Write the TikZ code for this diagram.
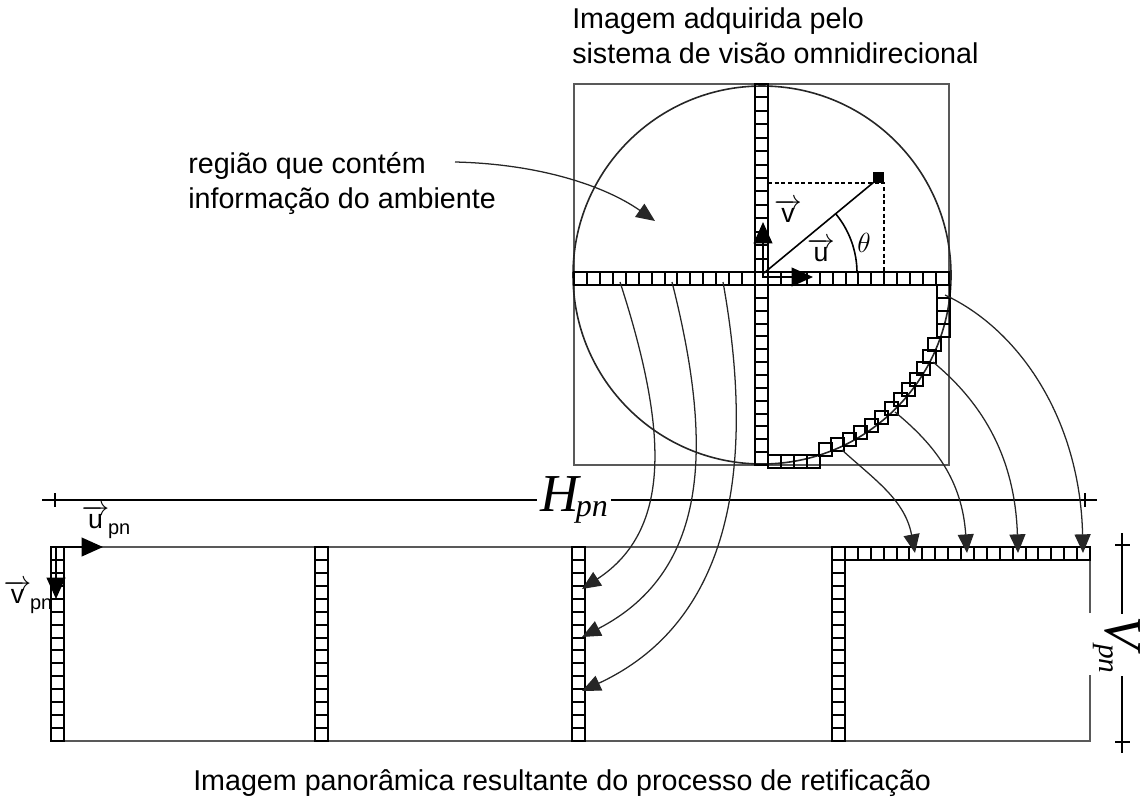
\documentclass[tikz,border=0pt]{standalone}
\usepackage{fontspec}
\setmainfont{Liberation Sans}
\newfontfamily\timesfont{Liberation Serif}
\usetikzlibrary{arrows.meta}
\newcommand\lbltext{\fontsize{21.5}{26}\selectfont}
\newcommand\veclbl{\fontsize{20}{20}\selectfont}
\newcommand\hcells[5]{%
  \pgfmathtruncatemacro\cellsnm{#5-1}%
  \draw[strip] (#1,#2) rectangle (#3,#4);
  \foreach \k in {1,...,\cellsnm}{\draw[strip] ({#1+(#3-#1)*\k/#5},#2) -- ({#1+(#3-#1)*\k/#5},#4);}}
\newcommand\vcells[5]{%
  \pgfmathtruncatemacro\cellsnm{#5-1}%
  \draw[strip] (#1,#2) rectangle (#3,#4);
  \foreach \k in {1,...,\cellsnm}{\draw[strip] (#1,{#2+(#4-#2)*\k/#5}) -- (#3,{#2+(#4-#2)*\k/#5});}}
\begin{document}
\begin{tikzpicture}[x=0.75pt,y=-0.75pt,
  frame/.style={draw=black!65, line width=1.3pt},
  strip/.style={draw=black, line width=1.5pt},
  curve/.style={draw=black!85, line width=0.95pt, -{Triangle[length=14pt,width=12pt]}},
  vecarrow/.style={draw=black, line width=1.4pt, -{Triangle[length=16pt,width=14pt]}},
  dim/.style={draw=black, line width=1.2pt},
  txt/.style={inner sep=0pt, font=\lbltext}]
\useasboundingbox (0,0) rectangle (1148,800);

% ---------- top: omnidirectional image ----------
\draw[frame] (574,84) rectangle (949,465);
\draw[black!85, line width=1.2pt] (762,275) circle[radius=189];
\vcells{755}{84}{768}{272}{14}
\vcells{755}{285}{768}{465}{14}
\hcells{574}{272}{949}{285}{29}
% staircase cells along the arc
\foreach \cx in {774.5,787.5,800.5,813.5}{\draw[strip] (\cx-6.5,455) rectangle ++(13,13);}
\foreach \a in {-70,-66,...,-22}{\draw[strip] ({762+186*cos(\a)-6.5},{275-186*sin(\a)-6.5}) rectangle ++(13,13);}
\foreach \cy in {291.5,304.5,317.5,330.5}{\draw[strip] (936.5,\cy-6.5) rectangle ++(13,13);}

% vectors u, v and point
\coordinate (O) at (764,273);
\coordinate (P) at (874,182);
\coordinate (Ou) at (762,277);
\coordinate (Ut) at (813,277);
\coordinate (Vt) at (763,222);
\draw[vecarrow] (Ou) -- (Ut);
\draw[vecarrow] (763,277) -- (Vt);
\draw[black, line width=1.2pt] (O) -- (P);
\fill[black] (873,172) rectangle (884,183);
\draw[black, line width=0.9pt, dash pattern=on 3pt off 2pt] (768,183) -- (884,183) -- (884,273);
\draw[black, line width=1.2pt] (857,273) arc[start angle=0, end angle=-39.6, radius=93];
\node[font=\fontsize{20}{20}\selectfont, inner sep=0pt] (theta) at (864,243) {$\theta$};
\node[font=\veclbl, inner sep=0pt] (ulab) at (821,250) {$\overrightarrow{\mbox{u}}$};
\node[font=\veclbl, inner sep=0pt] (vlab) at (788,211) {$\overrightarrow{\mbox{v}}$};

% title
\node[txt, anchor=base west] (t1) at (572,28) {Imagem adquirida pelo};
\node[txt, anchor=base west] (t2) at (572,63) {sistema de visão omnidirecional};

% region label
\node[txt, anchor=base west] (r1) at (188,173) {região que contém};
\node[txt, anchor=base west] (r2) at (188,208) {informação do ambiente};
\coordinate (rs) at (455,162);
\coordinate (re) at (655,221);
\draw[curve] (rs) .. controls (540,164) and (605,186) .. (re);

% ---------- dimension H ----------
\draw[dim] (42,500) -- (1097,500);
\draw[dim] (55,493) -- (55,507);
\draw[dim] (1085,493) -- (1085,507);
\node[fill=white, inner sep=2pt] (H) at (574,500) {\timesfont\itshape\fontsize{40}{40}\selectfont H\kern-2pt\raisebox{-4pt}{\fontsize{24}{24}\selectfont pn}};

% ---------- bottom: panoramic image ----------
\draw[frame] (1090,613) -- (1090,547) -- (51,547) -- (51,741) -- (1090,741) -- (1090,675);
\vcells{51}{547}{64}{741}{15}
\vcells{315}{547}{328}{741}{15}
\vcells{572}{547}{585}{741}{15}
\vcells{832}{547}{845}{741}{15}
\hcells{845}{547}{1090}{560}{19}

\coordinate (Opn) at (55,547);
\coordinate (Upn) at (103,547);
\coordinate (Vpn) at (56,599);
\draw[vecarrow] (Opn) -- (Upn);
\draw[vecarrow] (56,547) -- (Vpn);
\node[font=\veclbl, inner sep=0pt] (upnlab) at (106,522) {$\overrightarrow{\mbox{u}}$\kern-1pt\raisebox{-4pt}{\fontsize{15}{15}\selectfont pn}};
\node[font=\veclbl, inner sep=0pt] (vpnlab) at (28,597) {$\overrightarrow{\mbox{v}}$\kern-1pt\raisebox{-4pt}{\fontsize{15}{15}\selectfont pn}};

% ---------- dimension V ----------
\draw[dim] (1122,533) -- (1122,753);
\draw[dim] (1115,545) -- (1130,545);
\draw[dim] (1115,742) -- (1130,742);
\node[fill=white, inner sep=2pt, rotate=-90, anchor=base west] (V) at (1105,614) {\timesfont\itshape\fontsize{40}{40}\selectfont V\kern-4pt\raisebox{-4pt}{\fontsize{22}{22}\selectfont pn}};

% ---------- mapping curves ----------
\coordinate (a1) at (620,282);
\coordinate (a2) at (672,282);
\coordinate (a3) at (723,282);
\coordinate (b1) at (582,589);
\coordinate (b2) at (582,637);
\coordinate (b3) at (582,691);
\draw[curve] (a1) .. controls (668,430) and (672,530) .. (b1);
\draw[curve] (a2) .. controls (712,440) and (712,570) .. (b2);
\draw[curve] (a3) .. controls (755,460) and (735,620) .. (b3);

\coordinate (c1) at (945,295);
\coordinate (c2) at (933,362);
\coordinate (c3) at (895,412);
\coordinate (c4) at (842,450);
\coordinate (d1) at (1083,553);
\coordinate (d2) at (1018,553);
\coordinate (d3) at (967,553);
\coordinate (d4) at (915,553);
\draw[curve] (c1) .. controls (1020,330) and (1080,420) .. (d1);
\draw[curve] (c2) .. controls (985,405) and (1015,460) .. (d2);
\draw[curve] (c3) .. controls (935,445) and (962,480) .. (d3);
\draw[curve] (c4) .. controls (875,480) and (905,500) .. (d4);

% bottom caption
\node[txt, anchor=base west] (cap) at (193,790) {Imagem panorâmica resultante do processo de retificação};
\end{tikzpicture}
\end{document}
